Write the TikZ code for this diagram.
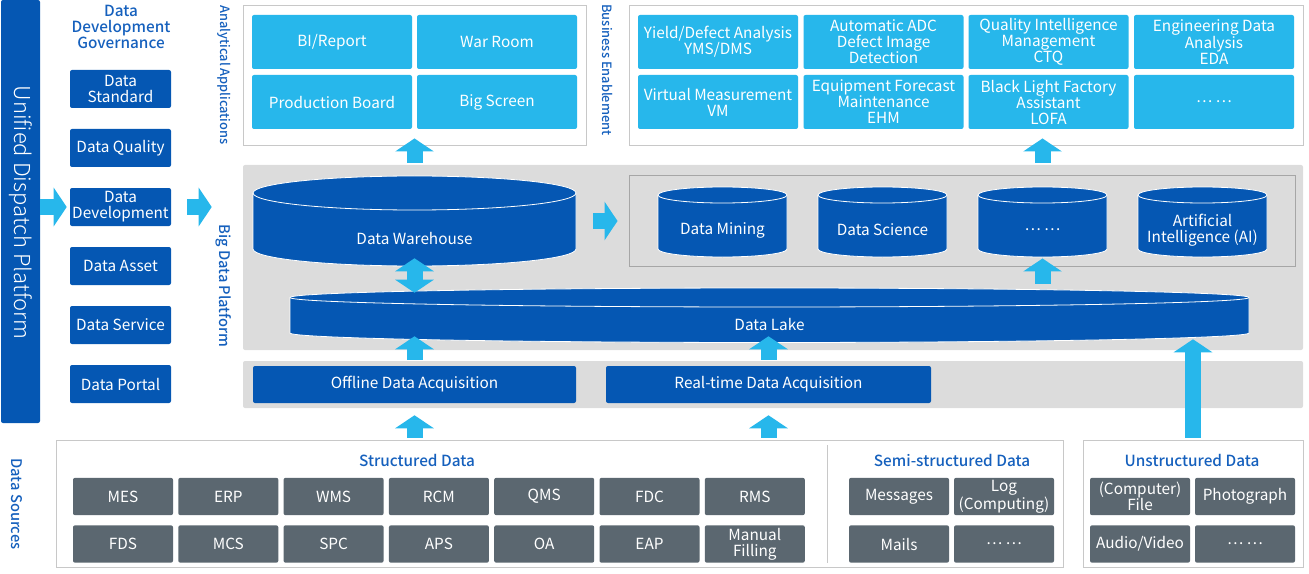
\documentclass[tikz,border=0pt]{standalone}
\usepackage{fontspec}
\setmainfont{Noto Sans CJK SC}
\IfFontExistsTF{Noto Sans CJK SC Light}
  {\newfontfamily\lightfont{Noto Sans CJK SC Light}}
  {\newfontfamily\lightfont{Noto Sans CJK SC}}
\IfFontExistsTF{Noto Sans CJK SC Medium}
  {\newfontfamily\mediumfont{Noto Sans CJK SC Medium}}
  {\newfontfamily\mediumfont{Noto Sans CJK SC}}
\usetikzlibrary{arrows.meta,calc,fit}

\definecolor{dkblue}{HTML}{0557B3}
\definecolor{ltblue}{HTML}{27B7EB}
\definecolor{srcgrey}{HTML}{5B6770}
\definecolor{bandgrey}{HTML}{DCDCDC}
\definecolor{linegrey}{HTML}{C8C8C8}
\definecolor{titleblue}{HTML}{1560BD}

% database cylinder: name, x left, x right, y top centre, y bottom centre, ry, text
\newcommand{\dbcyl}[7]{%
  \pgfmathsetmacro\rx{(#3-#2)/2}
  \filldraw[fill=dkblue,draw=white,line width=0.6pt]
    (#2,#4) -- (#2,#5) arc[start angle=180,end angle=360,x radius=\rx,y radius=#6]
    -- (#3,#4) arc[start angle=0,end angle=180,x radius=\rx,y radius=#6] -- cycle;
  \draw[white,line width=0.6pt] (#2,#4) arc[start angle=180,end angle=360,x radius=\rx,y radius=#6];
  \node[fit={(#2,{#4+#6}) (#3,{#5-#6})}] (#1) {};
  \node[text=white] (#1-text) at ({(#2+#3)/2},{(#4+#5)/2-#6}) {#7};
}

\begin{document}
\begin{tikzpicture}[x=0.75pt,y=0.75pt,
  every node/.style={font=\fontsize{11.5}{12}\selectfont,inner sep=0pt,align=center},
  govbox/.style={fill=dkblue,text=white,rounded corners=1.5pt,minimum width=75.75pt,minimum height=28.5pt},
  appbox/.style={fill=ltblue,text=white,rounded corners=1.5pt,minimum width=120pt,minimum height=40.5pt},
  srcbox/.style={fill=srcgrey,text=white,rounded corners=1.5pt,minimum width=75pt,minimum height=28pt},
  acqbox/.style={fill=dkblue,text=white,rounded corners=1.5pt,minimum height=27.75pt},
  frame/.style={draw=linegrey,line width=0.7pt,fill=white},
  band/.style={fill=bandgrey,rounded corners=1.5pt},
  sidelabel/.style={text=titleblue,rotate=-90,font=\mediumfont\fontsize{11}{12}\selectfont},
  smalllabel/.style={sidelabel,font=\mediumfont\fontsize{9.6}{12}\selectfont},
  grouptitle/.style={text=titleblue,font=\mediumfont\fontsize{11.5}{12}\selectfont},
  bigarrow/.style={ltblue,line width=12pt,-{Triangle[length=9.75pt,width=28.5pt]}},
  twoarrow/.style={ltblue,line width=12pt,{Triangle[length=9.75pt,width=28.5pt]}-{Triangle[length=9.75pt,width=28.5pt]}},
]
\useasboundingbox (0,0) rectangle (1309,-574);

% unified dispatch platform
\node[fill=dkblue,rounded corners=1.5pt,fit={(1,0) (40,-423)}] (udp) {};
\node[rotate=-90,text=white,font=\lightfont\fontsize{16.5}{18}\selectfont] (udp-text) at ($(udp)+(0,-1)$) {Unified Dispatch Platform};

% data development governance
\node[grouptitle] (gov) at (121,-27) {Data\\Development\\Governance};
\foreach \i/\n/\t in {0/std/{Data\\Standard},1/qual/{Data Quality},2/dev/{Data\\Development},
                      3/asset/{Data Asset},4/serv/{Data Service},5/portal/{Data Portal}}
  \node[govbox] (\n) at (120.5,{-89-59*\i}) {\t};

% bands of the big data platform
\node[band,fit={(243,-165) (1303,-350)}] (bdp) {};
\node[band,fit={(243,-361) (1303,-408)}] (acq) {};

% analytical applications
\node[smalllabel] (apps-label) at (224,-75) {Analytical Applications};
\node[frame,fit={(243,-5) (586,-145)}] (apps) {};
\node[appbox] (bi) at (332,-42) {BI/Report};
\node[appbox] (war) at (497,-42) {War Room};
\node[appbox] (prod) at (332,-102) {Production Board};
\node[appbox] (screen) at (497,-102) {Big Screen};

% business enablement
\node[smalllabel] (biz-label) at (608,-70) {Business Enablement};
\node[frame,fit={(629,-5) (1303,-145)}] (biz) {};
\node[appbox] (yms) at (718,-42) {Yield/Defect Analysis\\YMS/DMS};
\node[appbox] (adc) at (883.5,-42) {Automatic ADC\\Defect Image\\Detection};
\node[appbox] (ctq) at (1048.5,-42) {Quality Intelligence\\Management\\CTQ};
\node[appbox] (eda) at (1214,-42) {Engineering Data\\Analysis\\EDA};
\node[appbox] (vm) at (718,-102) {Virtual Measurement\\VM};
\node[appbox] (ehm) at (883.5,-102) {Equipment Forecast\\Maintenance\\EHM};
\node[appbox] (lofa) at (1048.5,-102) {Black Light Factory\\Assistant\\LOFA};
\node[appbox] (more) at (1214,-102) {… …};

% big data platform
\node[sidelabel] (bdp-label) at (224,-286) {Big Data Platform};
\dbcyl{wh}{253}{576}{-193}{-249}{17}{Data Warehouse}
\node[draw=black!35,line width=0.7pt,fit={(629,-175) (1295,-266)}] (ml) {};
\dbcyl{c1}{658}{787}{-195}{-249}{8}{Data Mining}
\dbcyl{c2}{818}{947}{-195}{-249}{8}{Data Science}
\dbcyl{c3}{978}{1107}{-195}{-249}{8}{… …}
\dbcyl{c4}{1138}{1267}{-195}{-249}{8}{Artificial\\Intelligence (AI)}
\dbcyl{lake}{290}{1249}{-297.5}{-333}{9.5}{Data Lake}

% acquisition
\node[acqbox,minimum width=242.25pt] (offline) at (414.5,-384.5) {Offline Data Acquisition};
\node[acqbox,minimum width=243.75pt] (realtime) at (768.5,-384.5) {Real-time Data Acquisition};

% data sources
\node[sidelabel] (src-label) at (17,-504) {Data Sources};
\node[frame,fit={(56,-440) (1063,-567)}] (src) {};
\node[frame,fit={(1083,-440) (1303,-567)}] (unstr) {};
\draw[linegrey,line width=0.7pt] (827,-445) -- (827,-563);
\node[grouptitle] (st-title) at (417,-460) {Structured Data};
\node[grouptitle] (semi-title) at (952,-460) {Semi-structured Data};
\node[grouptitle] (un-title) at (1192,-460) {Unstructured Data};
\foreach \t [count=\i from 0] in {MES,ERP,WMS,RCM,QMS,FDC,RMS}
  \node[srcbox] (sa\i) at ({123+105.3*\i},-496.5) {\t};
\foreach \t [count=\i from 0] in {FDS,MCS,SPC,APS,OA,EAP,{Manual\\Filling}}
  \node[srcbox] (sb\i) at ({123+105.3*\i},-544) {\t};
\node[srcbox] (msg) at (899,-496.5) {Messages};
\node[srcbox] (log) at (1004,-496.5) {Log\\(Computing)};
\node[srcbox] (mail) at (899,-544) {Mails};
\node[srcbox] (semi-more) at (1004,-544) {… …};
\node[srcbox] (file) at (1140,-496.5) {(Computer)\\File};
\node[srcbox] (photo) at (1245,-496.5) {Photograph};
\node[srcbox] (av) at (1140,-544) {Audio/Video};
\node[srcbox] (un-more) at (1245,-544) {… …};

% arrows
\draw[bigarrow] (udp.east |- dev) -- ($(dev.west)+(-3,0)$);
\draw[bigarrow] ($(dev.east)+(16,0)$) -- ($(bdp.west |- dev)+(-31,0)$);
\draw[bigarrow] ($(bdp.north -| wh)+(0,2)$) -- ($(apps.south -| wh)+(0,7)$);
\draw[bigarrow] ($(bdp.north -| c3)+(0,2)$) -- ($(biz.south -| c3)+(0,7)$);
\draw[bigarrow] ($(wh.east)+(17,0)$) -- ($(ml.west |- wh)+(-11,0)$);
\draw[twoarrow] ($(wh.south)+(0,8)$) -- ($(lake.north -| wh)+(0,-5)$);
\draw[bigarrow] ($(lake.north -| c3)+(0,4)$) -- ($(ml.south -| c3)+(0,8)$);
\draw[bigarrow] ($(offline.north)+(0,6)$) -- ($(lake.south -| offline)+(0,6.5)$);
\draw[bigarrow] ($(realtime.north)+(0,6)$) -- ($(lake.south -| realtime)+(0,6.5)$);
\draw[bigarrow] ($(src.north -| offline)+(0,2)$) -- ($(acq.south -| offline)+(0,-7)$);
\draw[bigarrow] ($(src.north -| realtime)+(0,2)$) -- ($(acq.south -| realtime)+(0,-7)$);
\draw[bigarrow] ($(unstr.north)+(0,2)$) -- ($(lake.south -| unstr)+(0,3.5)$);

\end{tikzpicture}
\end{document}
